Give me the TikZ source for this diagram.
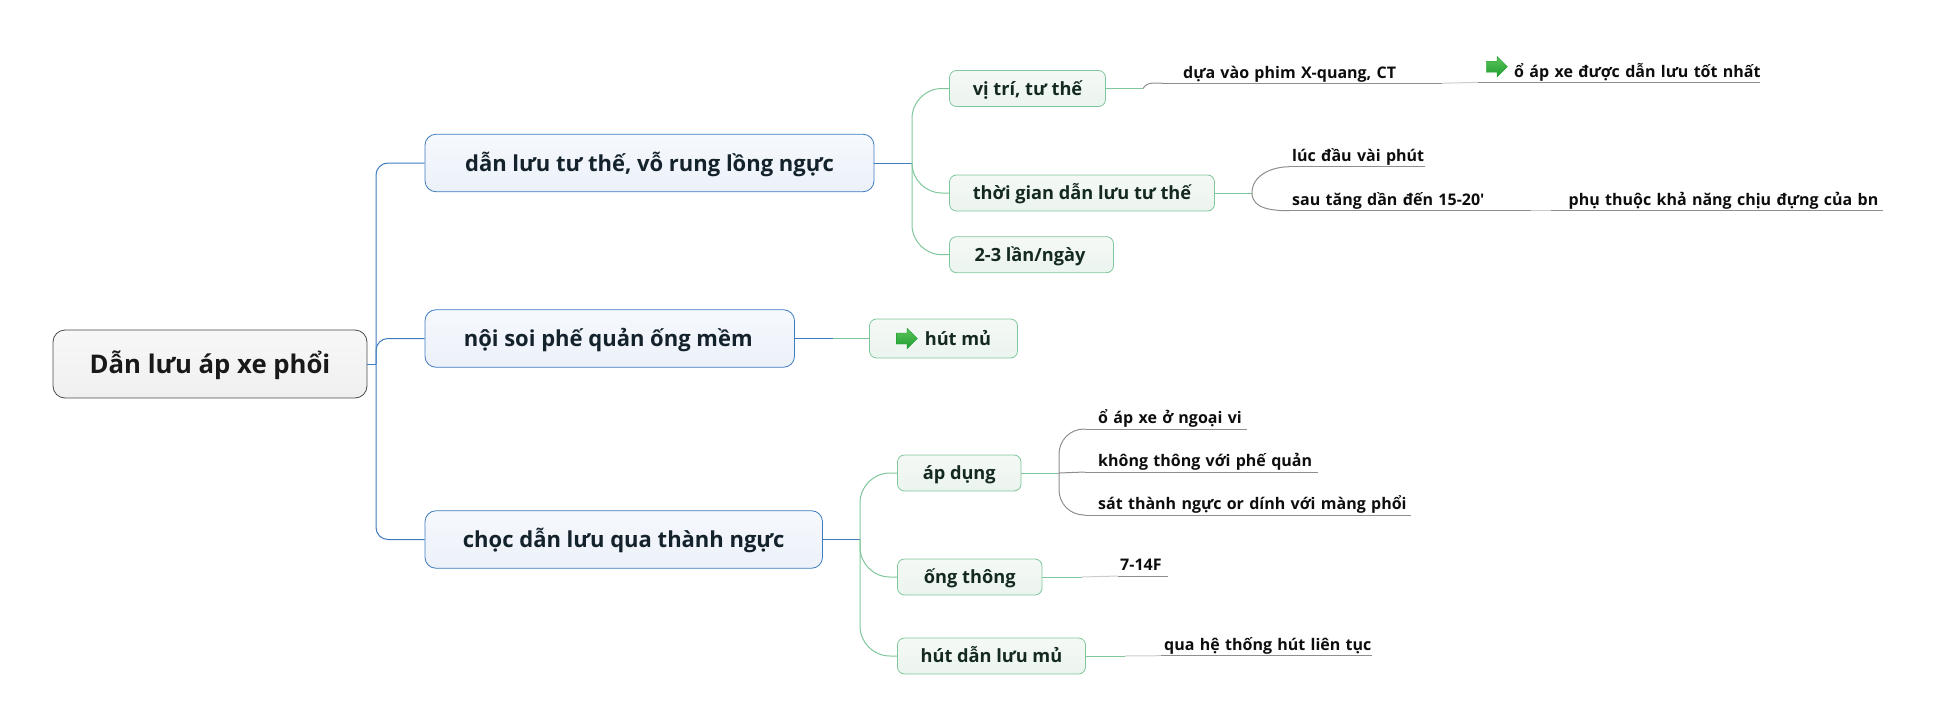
\documentclass[tikz,border=0pt]{standalone}
\usepackage{fontspec}
\setmainfont{Open Sans}
\usetikzlibrary{positioning,shapes.arrows}
\definecolor{rootedge}{HTML}{4A4A4A}
\definecolor{bluedge}{HTML}{3F7CBF}
\definecolor{greenedge}{HTML}{7FC79A}
\definecolor{fadeline}{HTML}{CCCCCC}
\definecolor{leafline}{HTML}{8E8E8E}
\definecolor{bluetop}{HTML}{F6F9FD}
\definecolor{bluebottom}{HTML}{ECF1F9}
\definecolor{greentop}{HTML}{F5F9F6}
\definecolor{greenbottom}{HTML}{EBF4EF}
\definecolor{arrowtop}{HTML}{5CC45C}
\definecolor{arrowbottom}{HTML}{1E9E2F}
\definecolor{bluetext}{HTML}{14222C}
\definecolor{greentext}{HTML}{142A20}
\begin{document}
\begin{tikzpicture}[x=1pt, y=-1pt,
    rootnode/.style={rectangle, rounded corners=12pt, draw=rootedge, thick, top color=white!97!black, bottom color=white!94!black, text=black!90, font=\bfseries\fontsize{25.7}{30}\selectfont, text height=25pt, text depth=6pt, inner sep=0pt, minimum width=314pt, minimum height=68pt},
    mainnode/.style={rectangle, rounded corners=11pt, draw=bluedge, thick, top color=bluetop, bottom color=bluebottom, text=bluetext, font=\bfseries\fontsize{22}{26}\selectfont, text height=21pt, text depth=5pt, inner sep=0pt, minimum height=57.5pt},
    subnode/.style={rectangle, rounded corners=7pt, draw=greenedge, thick, top color=greentop, bottom color=greenbottom, text=greentext, font=\bfseries\fontsize{18.2}{22}\selectfont, text height=16pt, text depth=3pt, inner sep=0pt, minimum height=36pt},
    leafnode/.style={anchor=south west, inner sep=0pt, text=black!95, align=left, font=\bfseries\fontsize{16}{20}\selectfont, text height=14pt, text depth=5pt},
    goarrow/.style={single arrow, draw=arrowbottom, top color=arrowtop, bottom color=arrowbottom, inner sep=0pt, text width=1pt, text height=10.6pt, text depth=0pt, minimum height=21pt, single arrow head extend=4.7pt, single arrow tip angle=90},
    blueline/.style={draw=bluedge, line width=1pt},
    greenline/.style={draw=greenedge, line width=1pt},
    grayline/.style={draw=leafline, line width=1pt},
    fadedline/.style={draw=fadeline, line width=1pt}]

    \useasboundingbox (0,0) rectangle (1936,728);

    \node[rootnode] (root) at (210,364) {Dẫn lưu áp xe phổi};

    \node[mainnode, minimum width=449pt] (posture) at (649.5,163) {dẫn lưu tư thế, vỗ rung lồng ngực};
    \node[mainnode, minimum width=369.5pt] (scope) at (609.75,338.5) {\hspace{-3pt}nội soi phế quản ống mềm};
    \node[mainnode, minimum width=397.5pt] (puncture) at (623.75,539.5) {chọc dẫn lưu qua thành ngực};

    \node[subnode, minimum width=156pt] (place) at (1027.5,88.5) {vị trí, tư thế};
    \node[subnode, minimum width=265pt] (duration) at (1082,193) {thời gian dẫn lưu tư thế};
    \node[subnode, minimum width=164pt] (times) at (1031.5,254.7) {\hspace{-3pt}2-3 lần/ngày};
    \node[subnode, minimum width=148pt, minimum height=39pt] (suction) at (943.5,338.5) {\hspace{29pt}hút mủ};
    \node[goarrow] (suctionarrow) [right=27pt of suction.west] {};
    \node[subnode, minimum width=123.5pt] (apply) at (959.25,473) {áp dụng};
    \node[subnode, minimum width=144.5pt] (tube) at (969.75,577) {ống thông};
    \node[subnode, minimum width=188pt] (drain) at (991.5,656) {hút dẫn lưu mủ};

    \coordinate (rootfork) at (376,364);
    \coordinate (postfork) at (912,163);
    \coordinate (puncfork) at (860,539.5);
    \coordinate (scopejoin) at (833,338.5);
    \coordinate (placejoin) at (1143,88.5);
    \coordinate (durfork) at (1252,193);
    \coordinate (applyfork) at (1059,473);
    \coordinate (tubejoin) at (1082,577);
    \coordinate (drainjoin) at (1125,656);

    \node[leafnode, text width=278pt] (film) at (1164,83.3) {\hspace*{19pt}\mbox{dựa vào phim X-quang, CT}};
    \node[leafnode, text width=282pt] (best) at (1478,82.3) {\hspace*{36pt}\mbox{ổ áp xe được dẫn lưu tốt nhất}};
    \node[goarrow] (bestarrow) at (1494,66.7) {};
    \node[leafnode, text width=135pt] (first) at (1290,166.7) {\hspace*{2pt}\mbox{lúc đầu vài phút}};
    \node[leafnode, text width=241pt] (later) at (1290,210.7) {\hspace*{2pt}\mbox{sau tăng dần đến 15-20\textquotesingle}};
    \node[leafnode, text width=332pt] (tolerance) at (1551,210.7) {\hspace*{17.5pt}\mbox{phụ thuộc khả năng chịu đựng của bn}};
    \node[leafnode, text width=161.5pt] (outer) at (1085,429) {\hspace*{13pt}\mbox{ổ áp xe ở ngoại vi}};
    \node[leafnode, text width=232.5pt] (noconn) at (1085,472) {\hspace*{13pt}\mbox{không thông với phế quản}};
    \node[leafnode, text width=326pt] (wall) at (1085,515) {\hspace*{13pt}\mbox{sát thành ngực or dính với màng phổi}};
    \node[leafnode, text width=50pt] (size) at (1118,576) {\hspace*{2pt}\mbox{7-14F}};
    \node[leafnode, text width=211pt] (system) at (1161,655.7) {\hspace*{3pt}\mbox{qua hệ thống hút liên tục}};

    % blue part
    \draw[blueline] (root.east) -- (rootfork);
    \draw[blueline, rounded corners=12pt] (rootfork) |- (posture.west);
    \draw[blueline, rounded corners=12pt] (rootfork) |- (scope.west);
    \draw[blueline, rounded corners=12pt] (rootfork) |- (puncture.west);
    \draw[blueline] (posture.east) -- (postfork);
    \draw[blueline] (scope.east) -- (scopejoin);
    \draw[blueline] (puncture.east) -- (puncfork);

    % green part
    \draw[greenline] (scopejoin) -- (suction.west);
    \draw[greenline, rounded corners=30pt] (postfork) |- (place.west);
    \draw[greenline, rounded corners=30pt] (postfork) |- (duration.west);
    \draw[greenline, rounded corners=30pt] (postfork) |- (times.west);
    \draw[greenline, rounded corners=30pt] (puncfork) |- (apply.west);
    \draw[greenline, rounded corners=30pt] (puncfork) |- (tube.west);
    \draw[greenline, rounded corners=30pt] (puncfork) |- (drain.west);
    \draw[greenline] (place.east) -- (placejoin);
    \draw[greenline] (duration.east) -- (durfork);
    \draw[greenline] (apply.east) -- (applyfork);
    \draw[greenline] (tube.east) -- (tubejoin);
    \draw[greenline] (drain.east) -- (drainjoin);

    % gray part
    \draw[grayline] (placejoin) to[out=60, in=180] (film.south west);
    \draw[grayline] (durfork) to[out=90, in=180] (first.south west);
    \draw[grayline] (durfork) to[out=-90, in=180] (later.south west);
    \draw[grayline, rounded corners=25pt] (applyfork) |- (outer.south west);
    \draw[grayline] (applyfork) -- (noconn.south west);
    \draw[grayline, rounded corners=25pt] (applyfork) |- (wall.south west);
    \draw[fadedline] (film.south east) -- (best.south west);
    \draw[fadedline] (later.south east) -- (tolerance.south west);
    \draw[fadedline] (tubejoin) -- (size.south west);
    \draw[fadedline] (drainjoin) -- (system.south west);

    \foreach \leaf in {film,best,first,later,tolerance,outer,noconn,wall,size,system}
        \draw[grayline] (\leaf.south west) -- (\leaf.south east);

\end{tikzpicture}
\end{document}
